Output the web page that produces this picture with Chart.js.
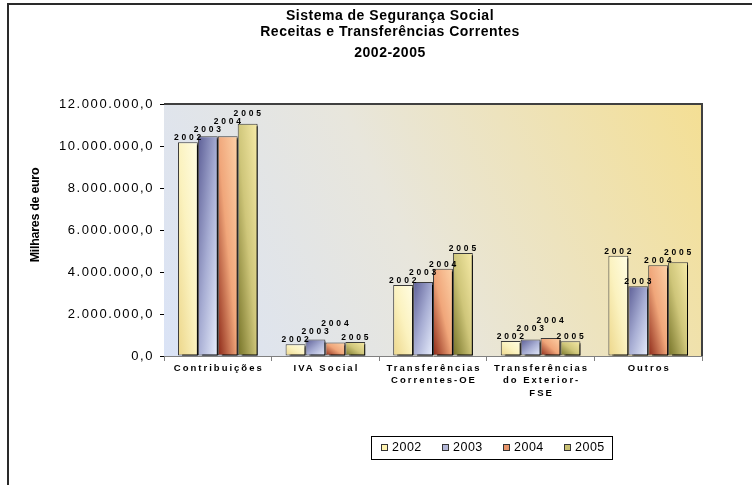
<!DOCTYPE html>
<html>
<head>
<meta charset="utf-8">
<script src="https://cdn.jsdelivr.net/npm/chart.js@4.4.1/dist/chart.umd.min.js"></script>
<style>
  html, body { margin: 0; padding: 0; background: #fff; }
  canvas { display: block; }
</style>
</head>
<body>
<canvas id="receitasChart" width="752" height="485"></canvas>
<script>
// categorias (linhas do rótulo) e valores em milhares de euro
const categories = [
    ["Contribuições"],
    ["IVA Social"],
    ["Transferências", "Correntes-OE"],
    ["Transferências", "do Exterior-", "FSE"],
    ["Outros"]
];
const years = ["2002", "2003", "2004", "2005"];
const values2002 = [10180000, 560000, 3380000, 720000, 4770000];
const values2003 = [10470000, 780000, 3520000, 780000, 3320000];
const values2004 = [10470000, 640000, 4160000, 860000, 4320000];
const values2005 = [11060000, 670000, 4900000, 700000, 4470000];
const yMax = 12000000;
const yStep = 2000000;

const titleLines = ["Sistema de Segurança Social", "Receitas e Transferências Correntes", "2002-2005"];
const yTitle = "Milhares de euro";

// paragens do gradiente de cada série (escuro -> claro) e cor da legenda
const seriesStyle = [
    { stops: ["#ecd68a", "#fbf2bf", "#fffde4"], swatch: "#fff3b0", diag: "up" },
    { stops: ["#5c5e96", "#a7add3", "#e9effd"], swatch: "#b4b8d8", diag: "down" },
    { stops: ["#8a2616", "#f0a67a", "#fdd2a8"], swatch: "#e8946a", diag: "up" },
    { stops: ["#737126", "#cfc67a", "#f7eba8"], swatch: "#c9c072", diag: "up" }
];
const CAT_PCT = 0.74;
const FONT = "'Liberation Sans', Arial, sans-serif";

function fmtNum(n) {
    return String(n).replace(/\B(?=(\d{3})+(?!\d))/g, ".") + ",0";
}

// gradiente diagonal ajustado à caixa de cada barra (canto a canto)
function barFill(ctx) {
    const chart = ctx.chart;
    const st = seriesStyle[ctx.datasetIndex];
    const xs = chart.scales.x, ys = chart.scales.y;
    if (ctx.type !== "data" || !xs || !ys || !xs.width) return st.swatch;
    const group = xs.width / categories.length * CAT_PCT;
    const w = group / years.length;
    const left = xs.getPixelForValue(ctx.dataIndex) - group / 2 + ctx.datasetIndex * w;
    const bottom = ys.getPixelForValue(0);
    const top = ys.getPixelForValue(ctx.raw);
    const h = Math.max(1, bottom - top);
    const up = st.diag === "up";
    const gx = 1 / (2 * w), gy = (up ? -1 : 1) / (2 * h);
    const n = gx * gx + gy * gy;
    const x0 = left, y0 = up ? bottom : top;
    const g = chart.ctx.createLinearGradient(x0, y0, x0 + gx / n, y0 + gy / n);
    g.addColorStop(0, st.stops[0]);
    g.addColorStop(0.5, st.stops[1]);
    g.addColorStop(1, st.stops[2]);
    return g;
}

const plotBackground = {
    id: "plotBackground",
    beforeDatasetsDraw(chart) {
        const { ctx, chartArea: a } = chart;
        const g = ctx.createLinearGradient(a.left, a.bottom, a.right, a.top);
        g.addColorStop(0, "#dae3f6");
        g.addColorStop(0.45, "#e8e6dc");
        g.addColorStop(1, "#f4df94");
        ctx.save();
        ctx.fillStyle = g;
        ctx.fillRect(a.left, a.top, a.right - a.left, a.bottom - a.top);
        ctx.restore();
    }
};

const barShadow = {
    id: "barShadow",
    beforeDatasetDraw(chart) {
        const c = chart.ctx;
        c.save();
        c.shadowColor = "#000";
        c.shadowOffsetX = 4;
        c.shadowOffsetY = 2;
        c.shadowBlur = 0;
    },
    afterDatasetDraw(chart) {
        chart.ctx.restore();
    }
};

const chartText = {
    id: "chartText",
    afterDraw(chart) {
        const { ctx, chartArea: a } = chart;
        const xs = chart.scales.x, ys = chart.scales.y;
        ctx.save();

        // moldura do gráfico
        ctx.strokeStyle = "#2a2a2a";
        ctx.lineWidth = 2;
        ctx.beginPath();
        ctx.moveTo(8, 485);
        ctx.lineTo(8, 4);
        ctx.lineTo(752, 4);
        ctx.stroke();

        // limite superior e direito da área de desenho
        ctx.strokeStyle = "#404040";
        ctx.lineWidth = 2;
        ctx.beginPath();
        ctx.moveTo(a.left, a.top);
        ctx.lineTo(a.right, a.top);
        ctx.lineTo(a.right, a.bottom);
        ctx.stroke();

        // título
        ctx.fillStyle = "#000";
        ctx.textAlign = "center";
        ctx.textBaseline = "middle";
        ctx.font = "bold 14px " + FONT;
        ctx.letterSpacing = "0.5px";
        const titleY = [16, 32, 53];
        titleLines.forEach((t, i) => ctx.fillText(t, 390, titleY[i]));

        // rótulos do eixo y
        ctx.font = "13px " + FONT;
        ctx.letterSpacing = "1.6px";
        ctx.textAlign = "right";
        ys.ticks.forEach(t => {
            ctx.fillText(fmtNum(t.value), 154, ys.getPixelForValue(t.value) + 0.5);
        });

        // título do eixo y
        ctx.save();
        ctx.translate(36, 215);
        ctx.rotate(-Math.PI / 2);
        ctx.textAlign = "center";
        ctx.letterSpacing = "-0.3px";
        ctx.font = "bold 12.5px " + FONT;
        ctx.fillText(yTitle, 0, 0);
        ctx.restore();

        // rótulos das categorias
        ctx.font = "bold 9.5px " + FONT;
        ctx.letterSpacing = "2px";
        ctx.textAlign = "center";
        categories.forEach((lines, i) => {
            const cx = xs.getPixelForValue(i) + 1;
            lines.forEach((l, k) => ctx.fillText(l, cx, 368 + k * 12.5));
        });

        // ano sobre cada barra; sobe o rótulo se colidir com o da barra anterior
        ctx.font = "bold 8.5px " + FONT;
        ctx.letterSpacing = "2.8px";
        ctx.textBaseline = "alphabetic";
        const capH = 6;
        categories.forEach((c, i) => {
            let prev = null;
            chart.data.datasets.forEach((ds, di) => {
                const bar = chart.getDatasetMeta(di).data[i];
                const tw = ctx.measureText(ds.label).width;
                const cx = bar.x + 1;
                let base = bar.y - 2;
                if (prev && cx - tw / 2 < prev.right && base > prev.base - capH - 1 && base - capH - 1 < prev.base) {
                    base = prev.base - capH - 2;
                }
                ctx.fillText(ds.label, cx, base);
                prev = { right: cx + tw / 2, base };
            });
        });

        // legenda
        ctx.letterSpacing = "0.5px";
        ctx.strokeStyle = "#000";
        ctx.lineWidth = 1;
        ctx.strokeRect(371.5, 436.5, 241, 23);
        ctx.font = "12.5px " + FONT;
        ctx.textAlign = "left";
        ctx.textBaseline = "middle";
        years.forEach((y, i) => {
            const lx = 381 + i * 61;
            ctx.fillStyle = seriesStyle[i].swatch;
            ctx.fillRect(lx, 444, 7, 7);
            ctx.strokeStyle = "#333";
            ctx.strokeRect(lx + 0.5, 444.5, 6, 6);
            ctx.fillStyle = "#000";
            ctx.fillText(y, lx + 11, 448);
        });

        ctx.restore();
    }
};

const seriesValues = [values2002, values2003, values2004, values2005];

new Chart(document.getElementById("receitasChart"), {
    type: "bar",
    data: {
        labels: categories,
        datasets: years.map((y, i) => ({
            label: y,
            data: seriesValues[i],
            backgroundColor: barFill,
            borderColor: "#3a3a3a",
            borderWidth: 1,
            borderSkipped: false,
            categoryPercentage: CAT_PCT,
            barPercentage: 1
        }))
    },
    options: {
        responsive: false,
        animation: false,
        events: [],
        layout: {
            padding: { left: 8, top: 104, right: 50, bottom: 0 }
        },
        plugins: {
            legend: { display: false },
            title: { display: false },
            tooltip: { enabled: false }
        },
        scales: {
            y: {
                min: 0,
                max: yMax,
                ticks: { display: false, stepSize: yStep },
                grid: { drawOnChartArea: false, color: "#000", tickLength: 4 },
                border: { color: "#000", width: 1 },
                afterFit: s => { s.width = 156; }
            },
            x: {
                ticks: { display: false },
                grid: { drawOnChartArea: false, color: "#808080", tickLength: 5, offset: true },
                border: { color: "#808080", width: 1 },
                afterFit: s => { s.height = 129; }
            }
        }
    },
    plugins: [plotBackground, barShadow, chartText]
});
</script>
</body>
</html>
